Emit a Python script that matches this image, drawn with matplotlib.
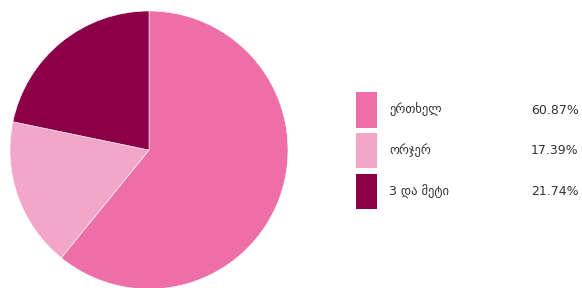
import matplotlib
matplotlib.use("Agg")
import matplotlib.pyplot as plt
from matplotlib.patches import Rectangle

labels = ["ერთხელ", "ორჯერ", "3 და მეტი"]
values = [60.87, 17.39, 21.74]
colors = ["#ee6fa7", "#f2a6c8", "#8c0049"]

W, H = 582, 288
fig = plt.figure(figsize=(W / 100, H / 100), dpi=100)
fig.patch.set_facecolor("white")

cx, cy, r = 149, 150, 139
ax = fig.add_axes([(cx - r) / W, (H - cy - r) / H, 2 * r / W, 2 * r / H])
ax.pie(values, colors=colors, startangle=90, counterclock=False,
       radius=1, wedgeprops=dict(linewidth=0.4, edgecolor="white"))
ax.set_xlim(-1, 1)
ax.set_ylim(-1, 1)
ax.set_aspect("auto")
ax.axis("off")

# legend
sq_x, sq_w = 356, 21
rows = [(92, 128), (133, 168), (174, 209)]
for (y0, y1), lab, val, col in zip(rows, labels, values, colors):
    fig.patches.append(Rectangle((sq_x / W, 1 - y1 / H), sq_w / W, (y1 - y0) / H,
                                 transform=fig.transFigure, facecolor=col,
                                 edgecolor="none"))
    yc = 1 - (y0 + y1) / 2 / H
    fig.text(389 / W, yc, lab, fontsize=9, color="#333333", va="center",
             ha="left", family=["DejaVu Sans"])
    fig.text(531 / W, yc, f"{val:.2f}%", fontsize=9, color="#333333",
             va="center", ha="left", family=["DejaVu Sans"])

fig.savefig("out.png", dpi=100, facecolor="white")
